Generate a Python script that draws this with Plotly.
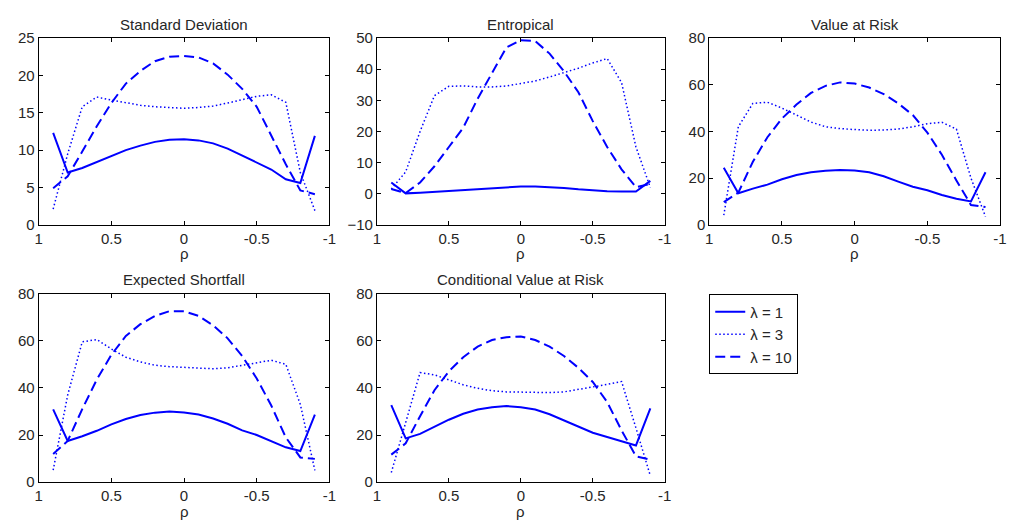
import plotly.graph_objects as go

rho = [0.9, 0.8, 0.7, 0.6, 0.5, 0.4, 0.3, 0.2, 0.1, 0.0,
       -0.1, -0.2, -0.3, -0.4, -0.5, -0.6, -0.7, -0.8, -0.9]

titles = ["Standard Deviation", "Entropical", "Value at Risk",
          "Expected Shortfall", "Conditional Value at Risk"]
series_names = ["\u03bb = 1", "\u03bb = 3", "\u03bb = 10"]

# Standard Deviation
sd_l1 = [12.3, 7.0, 7.6, 8.4, 9.3, 10.0, 10.6, 11.1, 11.4, 11.45,
         11.3, 10.9, 10.2, 9.3, 8.4, 7.4, 6.1, 5.6, 11.9]
sd_l3 = [2.1, 9.5, 15.8, 17.1, 16.7, 16.3, 16.0, 15.8, 15.65, 15.6,
         15.7, 15.9, 16.3, 16.8, 17.2, 17.4, 16.4, 7.0, 1.9]
sd_l10 = [4.9, 6.5, 9.8, 13.2, 16.3, 18.9, 20.6, 21.9, 22.5, 22.6,
          22.4, 21.6, 20.1, 18.2, 15.8, 12.0, 8.1, 4.6, 4.1]

# Entropical
en_l1 = [3.6, 0.1, 0.3, 0.6, 0.9, 1.2, 1.5, 1.9, 2.2, 2.3,
         2.3, 2.1, 1.8, 1.4, 1.0, 0.8, 0.7, 0.7, 4.1]
en_l3 = [1.5, 7.0, 20.0, 31.5, 34.5, 34.6, 34.3, 34.3, 34.6, 35.3,
         36.2, 37.5, 38.8, 40.3, 42.0, 43.4, 35.7, 15.0, 2.0]
en_l10 = [1.5, 0.2, 3.6, 8.8, 15.0, 21.2, 30.5, 38.8, 47.0, 49.3,
          49.0, 45.0, 39.3, 32.6, 23.3, 15.0, 7.8, 2.1, 3.1]

# Value at Risk
var_l1 = [24.4, 13.5, 15.5, 17.2, 19.5, 21.3, 22.5, 23.2, 23.5, 23.3,
          22.5, 20.8, 18.5, 16.3, 14.8, 12.8, 11.2, 10.0, 22.5]
var_l3 = [4.1, 42.0, 52.0, 52.5, 50.0, 47.0, 44.0, 42.0, 41.2, 40.8,
          40.5, 40.6, 41.0, 42.0, 43.3, 43.9, 41.0, 20.0, 3.5]
var_l10 = [9.7, 13.8, 27.0, 37.5, 45.5, 51.5, 56.5, 59.5, 61.0, 60.5,
           58.8, 56.0, 52.0, 47.0, 39.5, 30.0, 19.0, 8.5, 7.6]

# Expected Shortfall
es_l1 = [30.9, 17.5, 19.5, 21.8, 24.5, 26.8, 28.5, 29.5, 30.0, 29.6,
         28.7, 27.0, 24.8, 22.0, 20.0, 17.5, 14.8, 13.2, 28.7]
es_l3 = [5.1, 37.0, 59.5, 60.5, 56.5, 53.0, 51.0, 49.6, 49.0, 48.6,
         48.2, 48.1, 48.5, 49.5, 50.8, 51.7, 50.0, 33.0, 5.0]
es_l10 = [12.0, 17.5, 31.0, 43.5, 54.0, 62.0, 67.0, 70.5, 72.5, 72.5,
          70.5, 66.5, 61.0, 53.5, 44.0, 32.5, 19.0, 10.5, 9.9]

# Conditional Value at Risk
cvar_l1 = [32.7, 18.6, 20.5, 23.5, 26.5, 29.0, 30.8, 31.8, 32.3, 31.8,
           30.8, 28.8, 26.3, 23.5, 21.0, 19.2, 17.3, 15.6, 31.3]
cvar_l3 = [4.1, 25.0, 46.5, 45.5, 43.3, 41.3, 39.8, 38.8, 38.3, 38.1,
           38.0, 38.0, 38.3, 39.2, 40.4, 41.5, 42.7, 23.0, 2.7]
cvar_l10 = [11.7, 16.5, 28.0, 39.0, 47.0, 53.0, 57.5, 60.3, 61.5, 61.8,
            60.3, 57.5, 53.5, 48.5, 42.5, 34.0, 22.0, 11.0, 9.6]

panels = [
    (sd_l1, sd_l3, sd_l10),
    (en_l1, en_l3, en_l10),
    (var_l1, var_l3, var_l10),
    (es_l1, es_l3, es_l10),
    (cvar_l1, cvar_l3, cvar_l10),
]
y_ranges = [[0, 25], [-10, 50], [0, 80], [0, 80], [0, 80]]
y_dticks = [5, 10, 20, 20, 20]
x_ticks = [1, 0.5, 0, -0.5, -1]
x_ticktext = ["1", "0.5", "0", "-0.5", "-1"]

W, H = 1011, 527
cols_px = [(35, 329), (377, 668), (713, 1007)]
rows_px = [(30, 223), (294, 489)]
positions = [(0, 0), (0, 1), (0, 2), (1, 0), (1, 1)]

styles = [
    dict(color="#0000FF", width=2, dash="solid"),
    dict(color="#0000FF", width=1.5, dash="1.5px,2.5px"),
    dict(color="#0000FF", width=2, dash="10px,5px"),
]

FONT = "Liberation Sans, Arial, Helvetica, sans-serif"
TXT = "#262626"
FS = 15

fig = go.Figure()
annotations = []
layout_axes = {}
for i, (vals, (r, c)) in enumerate(zip(panels, positions)):
    n = i + 1
    xa = "x" if n == 1 else f"x{n}"
    ya = "y" if n == 1 else f"y{n}"
    for k, v in enumerate(vals):
        fig.add_trace(go.Scatter(
            x=rho, y=v, mode="lines", line=styles[k],
            name=series_names[k], showlegend=(i == 0),
            xaxis=xa, yaxis=ya,
        ))
    x0, x1 = cols_px[c]
    y0, y1 = rows_px[r]
    xdom = [x0 / W, x1 / W]
    ydom = [1 - y1 / H, 1 - y0 / H]
    common = dict(showline=True, linecolor="#000000", linewidth=1,
                  mirror="ticks", ticks="inside", ticklen=4,
                  tickcolor="#000000", showgrid=False, zeroline=False,
                  tickfont=dict(family=FONT, size=FS, color=TXT))
    layout_axes["xaxis" if n == 1 else f"xaxis{n}"] = dict(
        domain=xdom, range=[1, -1], tickvals=x_ticks, ticktext=x_ticktext,
        anchor=ya, **common)
    layout_axes["yaxis" if n == 1 else f"yaxis{n}"] = dict(
        domain=ydom, range=y_ranges[i], dtick=y_dticks[i], tick0=0,
        anchor=xa, **common)
    annotations.append(dict(
        text=titles[i], xref="paper", yref="paper",
        x=(xdom[0] + xdom[1]) / 2, y=1 - (y0 - 14) / H,
        xanchor="center", yanchor="middle", showarrow=False,
        font=dict(family=FONT, size=FS, color=TXT)))
    annotations.append(dict(
        text="\u03c1", xref="paper", yref="paper",
        x=(xdom[0] + xdom[1]) / 2, y=1 - (y1 + 30) / H,
        xanchor="center", yanchor="middle", showarrow=False,
        font=dict(family=FONT, size=FS, color=TXT)))

fig.update_layout(
    width=W, height=H,
    margin=dict(l=0, r=0, t=0, b=0),
    paper_bgcolor="white", plot_bgcolor="white",
    annotations=annotations,
    legend=dict(x=713 / W, y=1 - 295 / H, xanchor="left", yanchor="top",
                bordercolor="#000000", borderwidth=1, bgcolor="white",
                font=dict(family=FONT, size=FS, color=TXT),
                tracegroupgap=0),
    **layout_axes,
)

fig.write_html("out.html",
               post_script="document.body.style.margin='0';"
                           "document.documentElement.style.overflow='hidden';")
